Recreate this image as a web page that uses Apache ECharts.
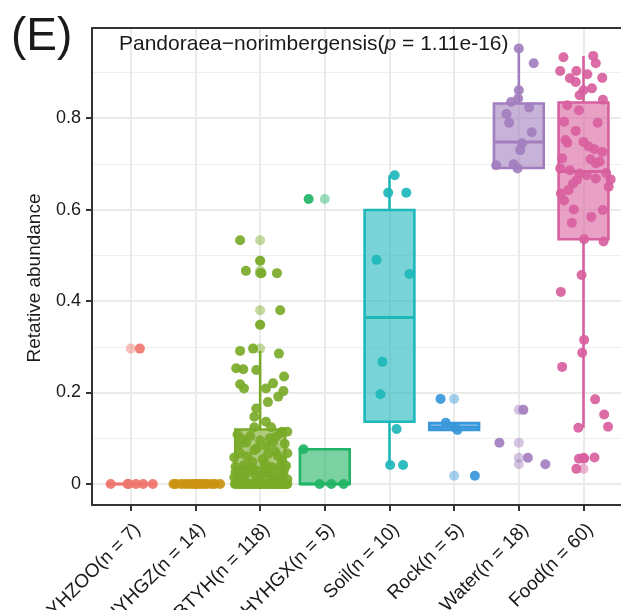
<!DOCTYPE html>
<html><head><meta charset="utf-8">
<script src="https://cdn.jsdelivr.net/npm/echarts@6/dist/echarts.min.js"></script>
<style>html,body{margin:0;padding:0;background:#fff}#c{width:621px;height:610px}</style>
</head><body><div id="c"></div>
<script>
// ---------- data ----------
const categories = ['YHZOO(n = 7)','HYHGZ(n = 14)','BTYH(n = 118)','HYHGX(n = 5)','Soil(n = 10)','Rock(n = 5)','Water(n = 18)','Food(n = 60)'];
const colors = ['#EE766E','#CB9310','#79AA28','#22B466','#1EB7BA','#3897DA','#A27EBE','#D8609E'];
const yTicks = [0, 0.2, 0.4, 0.6, 0.8];
const yMinorTicks = [0.1, 0.3, 0.5, 0.7, 0.9];
const titleText = 'Pandoraea−norimbergensis(';
const titleP = 'p';
const titleRest = ' = 1.11e-16)';
const panelLabel = '(E)';
const yTitle = 'Retative abundance';

// box statistics: [lower whisker, Q1, median, Q3, upper whisker]
const boxStats = [
  [0, 0, 0, 0, 0],
  [0, 0, 0, 0, 0],
  [0, 0, 0.035, 0.119, 0.291],
  [0, 0, 0, 0.076, 0.076],
  [0.0415, 0.136, 0.364, 0.599, 0.675],
  [0.118, 0.118, 0.124, 0.133, 0.133],
  [0.69, 0.691, 0.748, 0.832, 0.952],
  [0.123, 0.535, 0.683, 0.834, 0.936]
];

// outliers (drawn at the category centre)
const yhzooOutliers = [0.296];
const hyhgzOutliers = [];
const btyhOutliers = [0.533, 0.488, 0.466, 0.461, 0.461, 0.38, 0.348, 0.296];
const hyhgxOutliers = [0.623];
const soilOutliers = [];
const rockOutliers = [0.186, 0.018];
const waterOutliers = [0.162, 0.09, 0.0575, 0.043];
const foodOutliers = [0.058, 0.056, 0.055, 0.033];

// jittered samples: values and horizontal jitter (category units)
const yhzooValues = [0, 0, 0, 0, 0, 0.296, 0];
const yhzooJitter = [-0.31, -0.05, -0.03, 0.19, 0.34, 0.14, 0.08];

const hyhgzValues = [0,0,0,0,0,0,0,0,0,0,0,0,0,0];
const hyhgzJitter = [-0.34,-0.3,-0.22,-0.16,-0.1,-0.05,-0.01,0.03,0.08,0.13,0.18,0.25,0.3,0.38];

const btyhValues = [
  0.533,0.488,0.466,0.461,0.461,0.380,0.348,0.291,0.296,0.285,0.253,0.251,0.249,0.235,0.218,0.209,0.209,0.220,0.203,0.191,0.179,0.165,0.147,0.136,0.124,0.124,0.114,0.114,
  0.067,0.074,0.092,0.111,0.067,0.06,0.054,0.071,0.052,0.038,0.041,0.1,0.105,0.095,0.088,0.085,0.082,0.078,0.062,0.098,0.045,0.048,0.042,0.058,0.037,0.09,0.065,0.108,0.104,0.04,
  0.023,0.034,0.031,0.02,0.012,0.028,0.015,0.032,0.018,0.008,0.025,0.01,0.014,0.006,0.035,0.027,0.005,0.033,0.03,0.022,0.017,0.012,0.021,0.004,0.026,
  0,0,0,0,0,0,0,0,0,0,0,0,0,0,0,0,0,0,0,0,0,0,0,0,0,0,0,0,0,0,0,0,0,0,0
];
const btyhJitter = [
  -0.31,0.0,-0.22,0.02,0.26,0.31,0.0,-0.31,-0.11,0.29,-0.37,-0.26,-0.06,0.37,-0.31,-0.25,0.09,0.2,0.36,0.28,0.12,-0.06,-0.09,0.09,0.17,-0.09,0.34,0.42,
  -0.31,-0.09,0.2,0.31,0.42,-0.2,0.04,0.23,0.34,-0.38,-0.25,0.15,-0.15,0.0,0.38,-0.33,0.1,-0.05,0.27,-0.28,0.07,-0.12,0.32,-0.4,0.18,-0.22,0.12,-0.35,0.25,0.4,
  0.11,0.15,0.37,-0.35,0.32,-0.2,0.0,-0.1,0.25,-0.28,0.05,0.42,-0.4,0.2,-0.15,0.3,-0.05,0.08,-0.32,0.36,-0.24,0.17,-0.08,0.27,-0.38,
  -0.39,-0.37,-0.34,-0.31,-0.29,-0.26,-0.23,-0.2,-0.18,-0.15,-0.12,-0.1,-0.07,-0.04,-0.02,0.01,0.03,0.06,0.08,0.11,0.13,0.16,0.19,0.21,0.24,0.26,0.29,0.31,0.33,0.35,0.37,0.39,0.41,0.42,0.0
];

const hyhgxValues = [0.076, 0, 0, 0.623, 0];
const hyhgxJitter = [-0.33, -0.08, 0.29, -0.25, 0.1];

const soilValues = [0.675, 0.637, 0.637, 0.49, 0.459, 0.267, 0.196, 0.12, 0.0415, 0.0415];
const soilJitter = [0.08, -0.02, 0.26, -0.2, 0.31, -0.11, -0.14, 0.11, 0.01, 0.21];

const rockValues = [0.186, 0.134, 0.124, 0.018, 0.118];
const rockJitter = [-0.21, -0.13, 0.01, 0.32, 0.05];

const waterValues = [0.952,0.920,0.861,0.843,0.823,0.809,0.790,0.769,0.730,0.697,0.699,0.69,0.162,0.09,0.0575,0.043,0.745,0.835];
const waterJitter = [0.0,0.23,0.0,-0.01,0.16,-0.19,-0.15,0.2,0.02,-0.35,-0.08,-0.02,0.07,-0.3,0.14,0.41,0.05,-0.12];

const foodValues = [
  0.933,0.936,0.920,0.903,0.903,0.887,0.896,0.888,0.879,0.865,0.861,0.850,0.828,0.817,0.792,0.772,0.748,0.746,0.732,0.726,
  0.712,0.710,0.701,0.690,0.686,0.679,0.675,0.668,0.666,0.657,0.650,0.643,0.635,0.599,0.584,0.571,0.535,0.530,0.457,0.420,
  0.315,0.287,0.256,0.185,0.152,0.125,0.123,0.055,0.056,0.058,0.033,
  0.752,0.738,0.705,0.62,0.68,0.665,0.79,0.84,0.6
];
const foodJitter = [
  -0.31,0.15,0.19,-0.11,-0.36,-0.21,0.06,0.29,-0.12,0.13,0.0,-0.06,-0.25,-0.07,-0.3,-0.12,0.0,-0.25,0.17,0.29,
  -0.33,0.11,0.19,-0.36,-0.21,-0.06,0.05,0.19,0.42,-0.16,0.39,-0.23,-0.35,0.3,0.12,-0.18,0.01,0.31,-0.03,-0.35,
  0.01,-0.02,-0.33,0.18,0.32,0.38,-0.08,-0.07,0.01,0.17,-0.11,
  -0.28,0.08,0.25,-0.3,0.35,-0.1,0.22,0.3,-0.15
];

// ---------- build ----------
const groups = [
  [yhzooValues, yhzooJitter, yhzooOutliers],
  [hyhgzValues, hyhgzJitter, hyhgzOutliers],
  [btyhValues, btyhJitter, btyhOutliers],
  [hyhgxValues, hyhgxJitter, hyhgxOutliers],
  [soilValues, soilJitter, soilOutliers],
  [rockValues, rockJitter, rockOutliers],
  [waterValues, waterJitter, waterOutliers],
  [foodValues, foodJitter, foodOutliers]
];
const FONT = '"Liberation Sans", Arial, Helvetica, sans-serif';
const TXT = '#1a1a1a';
const AX = '#333333';
const catIdx = categories.map((_, i) => i);
function rgba(hex, a) {
  const n = parseInt(hex.slice(1), 16);
  return 'rgba(' + (n >> 16 & 255) + ',' + (n >> 8 & 255) + ',' + (n & 255) + ',' + a + ')';
}
const BOX_W = 0.77;

const series = [];
series.push({
  type: 'custom',
  z: 2,
  data: boxStats.map((s, i) => [i].concat(s)),
  encode: { x: 0, y: [1, 2, 3, 4, 5] },
  renderItem: function (params, api) {
    const x = api.value(0);
    const mn = api.value(1), q1 = api.value(2), md = api.value(3), q3 = api.value(4), mx = api.value(5);
    const w = api.size([BOX_W, 0])[0];
    const pMax = api.coord([x, mx]), pQ3 = api.coord([x, q3]), pMd = api.coord([x, md]);
    const pQ1 = api.coord([x, q1]), pMin = api.coord([x, mn]);
    const col = colors[x];
    const lw = 2.6;
    return { type: 'group', children: [
      { type: 'line', shape: { x1: pMax[0], y1: pMax[1], x2: pQ3[0], y2: pQ3[1] }, style: { stroke: col, lineWidth: lw } },
      { type: 'line', shape: { x1: pQ1[0], y1: pQ1[1], x2: pMin[0], y2: pMin[1] }, style: { stroke: col, lineWidth: lw } },
      { type: 'rect', shape: { x: pQ3[0] - w / 2, y: pQ3[1], width: w, height: pQ1[1] - pQ3[1] },
        style: { fill: rgba(col, 0.6), stroke: col, lineWidth: lw } },
      { type: 'line', shape: { x1: pMd[0] - w / 2, y1: pMd[1], x2: pMd[0] + w / 2, y2: pMd[1] }, style: { stroke: col, lineWidth: 3 } }
    ]};
  }
});
groups.forEach((g, i) => {
  series.push({
    type: 'scatter', z: 3, symbolSize: 10, silent: true,
    itemStyle: { color: colors[i], opacity: 0.45 },
    data: g[2].map(v => [i, v])
  });
});
groups.forEach((g, i) => {
  series.push({
    type: 'scatter', z: 4, symbolSize: 10, silent: true,
    itemStyle: { color: colors[i], opacity: 0.92 },
    data: g[0].map((v, k) => [i + g[1][k], v])
  });
});

const chart = echarts.init(document.getElementById('c'), null, { renderer: 'canvas' });
chart.setOption({
  animation: false,
  backgroundColor: '#ffffff',
  textStyle: { fontFamily: FONT },
  grid: { left: 92, top: 28, right: 0, bottom: 105, containLabel: false, outerBoundsMode: 'none' },
  xAxis: [{
    type: 'value', min: -0.6, max: 7.58, position: 'bottom',
    axisLine: { show: true, onZero: false, lineStyle: { color: AX, width: 2 } },
    axisTick: { show: true, customValues: catIdx, length: 6, lineStyle: { color: AX, width: 2 } },
    axisLabel: { customValues: catIdx, formatter: v => categories[Math.round(v)], rotate: 45,
      fontSize: 19, color: TXT, fontFamily: FONT, margin: 15, align: 'right', verticalAlign: 'top' },
    splitLine: { show: true, lineStyle: { color: '#EBEBEB', width: 2 } }
  }, {
    type: 'value', min: -0.6, max: 7.58, position: 'top',
    axisLine: { show: true, onZero: false, lineStyle: { color: AX, width: 2 } },
    axisTick: { show: false }, axisLabel: { show: false }, splitLine: { show: false }
  }],
  yAxis: [{
    type: 'value', min: -0.046, max: 0.997, position: 'left',
    axisLine: { show: true, onZero: false, lineStyle: { color: AX, width: 2 } },
    axisTick: { show: true, customValues: yTicks, length: 6, lineStyle: { color: AX, width: 2 } },
    axisLabel: { customValues: yTicks, formatter: v => (v === 0 ? '0' : v.toFixed(1)),
      fontSize: 18, color: TXT, fontFamily: FONT, margin: 11 },
    splitLine: { show: true, lineStyle: { color: '#EBEBEB', width: 2 } }
  }, {
    type: 'value', min: -0.046, max: 0.997, position: 'left',
    axisLine: { show: false }, axisTick: { show: false, customValues: yMinorTicks },
    axisLabel: { show: false, customValues: yMinorTicks },
    splitLine: { show: true, lineStyle: { color: '#EFEFEF', width: 1 } }
  }],
  graphic: [
    { type: 'text', left: 11, top: 14, z: 10,
      style: { text: panelLabel, fontSize: 46, fontFamily: FONT, fill: TXT } },
    { type: 'text', left: 119, top: 34, z: 10,
      style: { text: '{a|' + titleText + '}{i|' + titleP + '}{a|' + titleRest + '}',
        rich: { a: { fontSize: 21, fontFamily: FONT, fill: TXT }, i: { fontSize: 21, fontFamily: FONT, fontStyle: 'italic', fill: TXT } } } },
    { type: 'text', x: 35, y: 278, rotation: Math.PI / 2, z: 10,
      style: { text: yTitle, fontSize: 19, fontFamily: FONT, fill: TXT, align: 'center', verticalAlign: 'middle' } }
  ],
  series: series
});
</script>
</body></html>
